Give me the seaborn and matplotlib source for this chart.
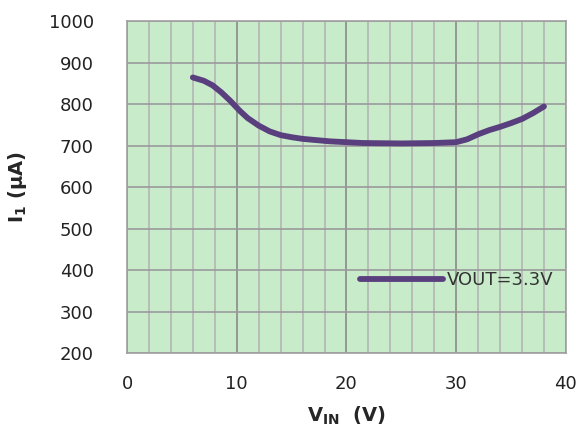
import matplotlib
matplotlib.use("Agg")
import matplotlib.pyplot as plt
import seaborn as sns
import pandas as pd
from matplotlib.ticker import MultipleLocator

# supply current vs input voltage, VOUT = 3.3V
vin = [6, 7, 7.8, 8.6, 9.4, 10.3, 11, 12, 13, 14, 15, 16, 18.5, 21.5, 25,
       28, 30, 31, 32, 33, 34, 35, 36, 37, 38]
i1_uA = [864, 856, 845, 828, 808, 783, 766, 748, 734, 725, 720, 716, 710, 706, 705,
         706, 708, 715, 727, 737, 745, 754, 764, 778, 794]
series_label = "VOUT=3.3V"

x_ticks = [0, 10, 20, 30, 40]
y_ticks = [200, 300, 400, 500, 600, 700, 800, 900, 1000]

df = pd.DataFrame({"vin": vin, "i1": i1_uA, "series": series_label})

sns.set_style("white", {"axes.facecolor": "#c8ecca", "axes.edgecolor": "#a0a0a0"})
plt.rcParams["font.family"] = ["DejaVu Sans"]

fig = plt.figure(figsize=(5.76, 4.34), dpi=100)
ax = fig.add_axes([0.2205, 0.1866, 0.762, 0.765])

sns.lineplot(data=df, x="vin", y="i1", hue="series", palette=["#5a3f7e"],
             linewidth=4.2, ax=ax, solid_capstyle="round", solid_joinstyle="round",
             zorder=3)

ax.set_xlim(0, 40)
ax.set_ylim(200, 1000)
ax.set_xticks(x_ticks)
ax.set_yticks(y_ticks)
ax.xaxis.set_minor_locator(MultipleLocator(2))
ax.grid(which="minor", axis="x", color="#b4b4b4", linewidth=1.2)
ax.grid(which="major", axis="x", color="#8a8a8a", linewidth=1.2)
ax.grid(which="major", axis="y", color="#9a9a9a", linewidth=1.2)
ax.set_axisbelow(True)
for s in ax.spines.values():
    s.set_color("#a0a0a0")
    s.set_linewidth(1.2)

ax.tick_params(axis="both", which="both", length=0, labelsize=13, labelcolor="#222222")
ax.tick_params(axis="y", pad=24)
ax.tick_params(axis="x", pad=16)

ax.set_xlabel(r"$\mathbf{V_{IN}}$  (V)", fontsize=14, fontweight="bold", labelpad=8)
ax.set_ylabel(r"$\mathbf{I_{1}}$ (µA)", fontsize=14, fontweight="bold", labelpad=14)

leg = ax.legend(loc="center left", bbox_to_anchor=(0.531, 0.22), frameon=False,
                handlelength=4.6, handletextpad=0.2, borderpad=0, borderaxespad=0,
                fontsize=13)
for t in leg.get_texts():
    t.set_color("#333333")

fig.savefig("out.png", dpi=100)
